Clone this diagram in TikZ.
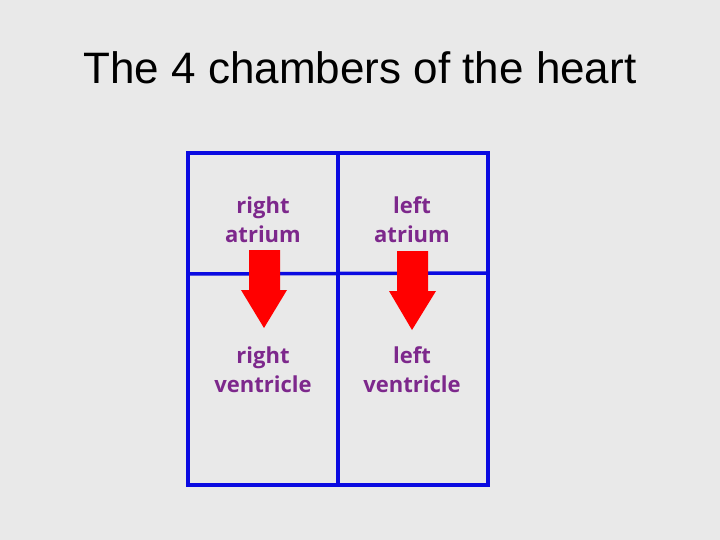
\documentclass[tikz,border=0pt]{standalone}
\usepackage{fontspec}
\setmainfont{Liberation Sans}
\newfontfamily\labelfont{Open Sans}
\definecolor{bg}{RGB}{233,233,233}
\definecolor{gridblue}{RGB}{10,10,225}
\definecolor{lblpurple}{RGB}{125,40,140}
\definecolor{arrowred}{RGB}{255,0,0}
\tikzset{
  chamber/.style={font=\labelfont\bfseries\fontsize{22}{29}\selectfont, text=lblpurple, align=center, inner sep=0pt},
  wall/.style={draw=gridblue, line width=3.5pt},
  flowarrow/.style={fill=arrowred, draw=none}
}
\begin{document}
\begin{tikzpicture}[x=1pt,y=-1pt]
\fill[bg] (0,0) rectangle (720,540);
\useasboundingbox (0,0) rectangle (720,540);
\node[font=\fontsize{44}{50}\selectfont, inner sep=0pt] (title) at (360,68) {The 4 chambers of the heart};
% walls
\draw[wall] (188,153) rectangle (488,485);
\draw[wall] (338,153) -- (338,485);
\draw[wall] (188,274) -- (488,273);
% arrows
\fill[flowarrow] (249,250) -- (280,250) -- (280,290) -- (287,290) -- (264,328) -- (241,290) -- (249,290) -- cycle;
\fill[flowarrow] (397,251) -- (428,251) -- (428,291) -- (436,291) -- (412,330) -- (389,291) -- (397,291) -- cycle;
% labels
\node[chamber] (ra) at (263,220) {right\\atrium};
\node[chamber] (la) at (412,220) {left\\atrium};
\node[chamber] (rv) at (263,370) {right\\ventricle};
\node[chamber] (lv) at (412,370) {left\\ventricle};
\end{tikzpicture}
\end{document}
